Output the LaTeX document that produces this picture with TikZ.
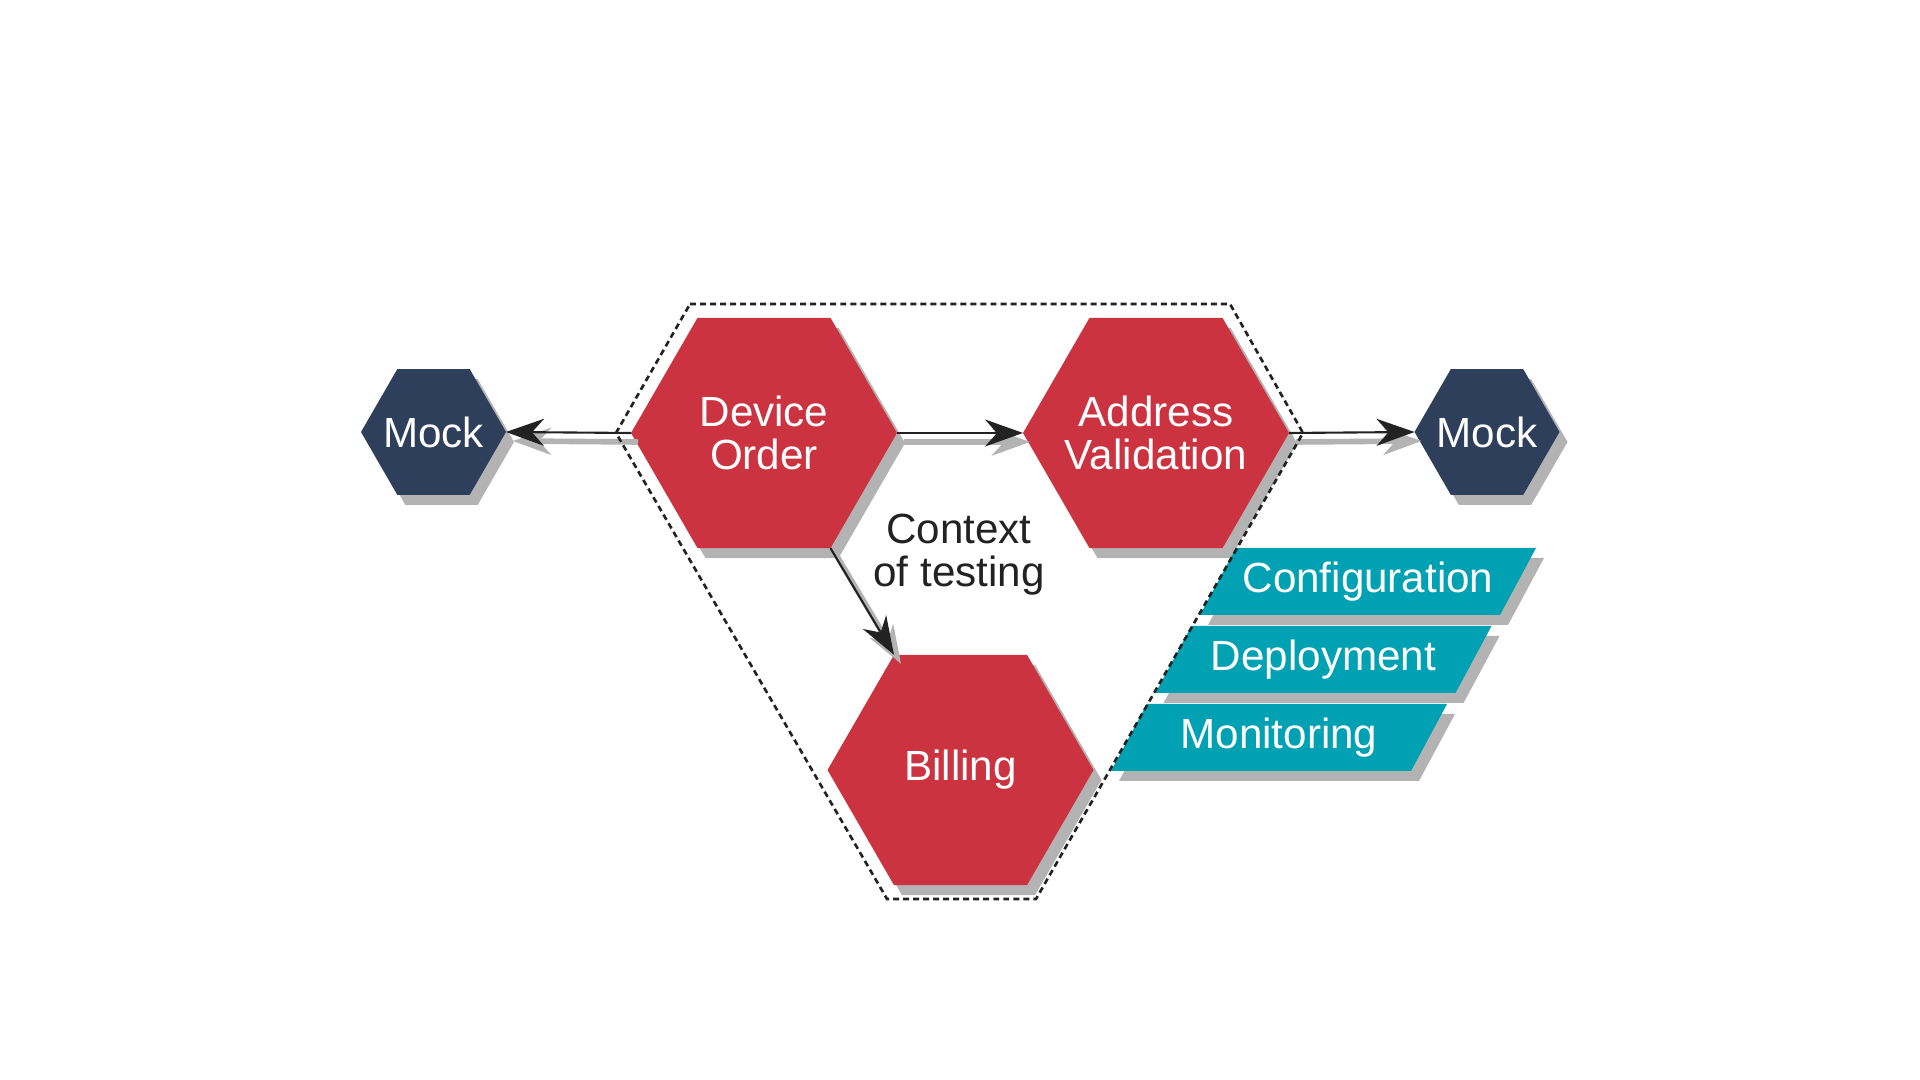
\documentclass[tikz,border=0pt]{standalone}
\usepackage{fontspec}
\setmainfont{Liberation Sans}
\usepackage{tikz}
\usetikzlibrary{shapes.geometric}
\usetikzlibrary{shadows}
\usetikzlibrary{arrows.meta}
\definecolor{myred}{HTML}{CC3340}
\definecolor{mynavy}{HTML}{2E3F5C}
\definecolor{myteal}{HTML}{00A1B2}
\definecolor{mygray}{HTML}{B3B3B3}
\definecolor{myblack}{HTML}{222222}

\tikzset{
  myshadow/.style={drop shadow={shadow xshift=0.08cm, shadow yshift=-0.10cm, fill=mygray, opacity=1}},
  hexlabel/.style={text=white, align=center},
  hexbig/.style={regular polygon, regular polygon sides=6, minimum size=2.66cm,
    inner sep=0pt, outer sep=0pt, fill=myred, myshadow},
  hexmock/.style={regular polygon, regular polygon sides=6, minimum size=1.45cm,
    inner sep=0pt, outer sep=0pt, fill=mynavy, myshadow},
  tagtext/.style={text=white, inner sep=0pt},
  link/.style={draw=myblack, line width=0.6pt,
    -{Stealth[length=3.8mm, width=2.7mm, inset=1.2mm]},
    preaction={draw=mygray, line width=1.6pt, transform canvas={shift={(0.07,-0.09)}}}}
}

\begin{document}
\begin{tikzpicture}[every node/.style={font=\fontsize{12}{12.2}\selectfont}]
		\fill[white] (0,0) rectangle (19.2,10.8);
		\useasboundingbox (0,0) rectangle (19.2,10.8);
		
		% Draw the hexagons
		\node[hexmock, label={[hexlabel]center:Mock}] (mockL) at (4.335,6.48) {};
		\node[hexbig, label={[hexlabel]center:Device\\Order}] (order) at (7.64,6.47) {};
		\node[hexbig, label={[hexlabel]center:Address\\Validation}] (addr) at (11.56,6.47) {};
		\node[hexmock, label={[hexlabel]center:Mock}] (mockR) at (14.87,6.48) {};
		\node[hexbig, label={[hexlabel]center:Billing}] (bill) at (9.605,3.10) {};
		
		% Draw the tags
		\foreach \name/\txt [count=\i] in {conf/Configuration, deploy/Deployment, monit/Monitoring} {
			\coordinate (\name c) at ({13.68-0.445*(\i-1)},{4.985-0.78*(\i-1)});
			\fill[myteal, myshadow] (\name c) ++(-1.68,-0.335) -- ++(3.0,0) -- ++(0.36,0.67) -- ++(-3.0,0) -- cycle;
			\node[tagtext] (\name) at (\name c) {\txt};
		}
		
		% Draw the links
		\draw[link] (order.west) -- (mockL.east);
		\draw[link] (order.east) -- (addr.west);
		\draw[link] (addr.east) -- (mockR.west);
		\draw[link] (order.300) -- (bill.120);
		
		% Context boundary
		\draw[myblack, line width=0.75pt, dash pattern=on 1.7pt off 1.15pt]
			(6.90,7.76) -- (12.30,7.76) -- (13.03,6.47) -- (10.36,1.81)
			-- (8.87,1.81) -- (6.16,6.47) -- cycle;
		\node[text=myblack, align=center] (context) at (9.59,5.25) {Context\\of testing};
	\end{tikzpicture}
\end{document}
